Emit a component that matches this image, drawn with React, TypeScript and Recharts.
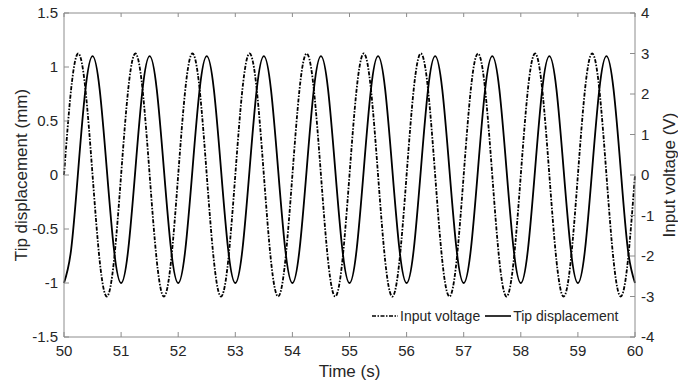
import { LineChart, Line, XAxis, YAxis, Legend } from 'recharts';

const time = [
  50, 50.125, 50.25, 50.375, 50.5, 50.625, 50.75, 50.875,
  51, 51.125, 51.25, 51.375, 51.5, 51.625, 51.75, 51.875,
  52, 52.125, 52.25, 52.375, 52.5, 52.625, 52.75, 52.875,
  53, 53.125, 53.25, 53.375, 53.5, 53.625, 53.75, 53.875,
  54, 54.125, 54.25, 54.375, 54.5, 54.625, 54.75, 54.875,
  55, 55.125, 55.25, 55.375, 55.5, 55.625, 55.75, 55.875,
  56, 56.125, 56.25, 56.375, 56.5, 56.625, 56.75, 56.875,
  57, 57.125, 57.25, 57.375, 57.5, 57.625, 57.75, 57.875,
  58, 58.125, 58.25, 58.375, 58.5, 58.625, 58.75, 58.875,
  59, 59.125, 59.25, 59.375, 59.5, 59.625, 59.75, 59.875,
  60,
];

// input voltage (V), right axis
const inputVoltage = [
  0, 2.12, 3, 2.12, 0, -2.12, -3, -2.12,
  0, 2.12, 3, 2.12, 0, -2.12, -3, -2.12,
  0, 2.12, 3, 2.12, 0, -2.12, -3, -2.12,
  0, 2.12, 3, 2.12, 0, -2.12, -3, -2.12,
  0, 2.12, 3, 2.12, 0, -2.12, -3, -2.12,
  0, 2.12, 3, 2.12, 0, -2.12, -3, -2.12,
  0, 2.12, 3, 2.12, 0, -2.12, -3, -2.12,
  0, 2.12, 3, 2.12, 0, -2.12, -3, -2.12,
  0, 2.12, 3, 2.12, 0, -2.12, -3, -2.12,
  0, 2.12, 3, 2.12, 0, -2.12, -3, -2.12,
  0,
];

// tip displacement (mm), left axis
const tipDisplacement = [
  -1, -0.69, 0.05, 0.79, 1.1, 0.79, 0.05, -0.69,
  -1, -0.69, 0.05, 0.79, 1.1, 0.79, 0.05, -0.69,
  -1, -0.69, 0.05, 0.79, 1.1, 0.79, 0.05, -0.69,
  -1, -0.69, 0.05, 0.79, 1.1, 0.79, 0.05, -0.69,
  -1, -0.69, 0.05, 0.79, 1.1, 0.79, 0.05, -0.69,
  -1, -0.69, 0.05, 0.79, 1.1, 0.79, 0.05, -0.69,
  -1, -0.69, 0.05, 0.79, 1.1, 0.79, 0.05, -0.69,
  -1, -0.69, 0.05, 0.79, 1.1, 0.79, 0.05, -0.69,
  -1, -0.69, 0.05, 0.79, 1.1, 0.79, 0.05, -0.69,
  -1, -0.69, 0.05, 0.79, 1.1, 0.79, 0.05, -0.69,
  -1,
];

const timeTicks = [50, 51, 52, 53, 54, 55, 56, 57, 58, 59, 60];
const dispTicks = [-1.5, -1, -0.5, 0, 0.5, 1, 1.5];
const voltTicks = [-4, -3, -2, -1, 0, 1, 2, 3, 4];

const data = time.map((t, i) => ({ t, v: inputVoltage[i], d: tipDisplacement[i] }));

const AXIS = '#8c8c8c';
const TEXT = '#262626';
const DASH_DOT = '4 1.5 1.5 1.5';

const tickStyle = { fill: TEXT, fontSize: 15 };

function LegendBox() {
  const item = { display: 'flex', alignItems: 'center' } as const;
  return (
    <div style={{ display: 'flex', alignItems: 'center', fontSize: 14, color: TEXT, whiteSpace: 'nowrap' }}>
      <div style={item}>
        <svg width={26} height={10}>
          <line x1={0} y1={5} x2={26} y2={5} stroke="#000" strokeWidth={1.6} strokeDasharray={DASH_DOT} />
        </svg>
        <span style={{ marginLeft: 2 }}>Input voltage</span>
      </div>
      <div style={{ ...item, marginLeft: 5 }}>
        <svg width={26} height={10}>
          <line x1={0} y1={5} x2={26} y2={5} stroke="#000" strokeWidth={1.6} />
        </svg>
        <span style={{ marginLeft: 2 }}>Tip displacement</span>
      </div>
    </div>
  );
}

export default function App() {
  return (
    <div style={{ position: 'absolute', left: 0, top: 0, fontFamily: '"Liberation Sans", Arial, sans-serif' }}>
      <LineChart width={678} height={385} data={data} margin={{ top: 0, right: 0, bottom: 0, left: 0 }}>
        <XAxis
          xAxisId="bottom"
          dataKey="t"
          type="number"
          domain={[50, 60]}
          ticks={timeTicks}
          interval={0}
          height={48}
          stroke={AXIS}
          tickSize={-5}
          tickMargin={13}
          tick={tickStyle}
          label={({ viewBox }: any) => (
            <text x={viewBox.x + viewBox.width / 2} y={377} textAnchor="middle" fontSize={17} fill={TEXT}>
              Time (s)
            </text>
          )}
        />
        <XAxis
          xAxisId="top"
          dataKey="t"
          type="number"
          orientation="top"
          domain={[50, 60]}
          ticks={timeTicks}
          interval={0}
          height={13}
          stroke={AXIS}
          tickSize={-4}
          tickFormatter={() => ''}
        />
        <YAxis
          yAxisId="left"
          type="number"
          domain={[-1.5, 1.5]}
          ticks={dispTicks}
          interval={0}
          width={64}
          stroke={AXIS}
          tickSize={-5}
          tickMargin={11}
          tick={tickStyle}
          label={({ viewBox }: any) => (
            <text
              x={21}
              y={viewBox.y + viewBox.height / 2}
              dy="0.35em"
              textAnchor="middle"
              fontSize={17}
              fill={TEXT}
              transform={`rotate(-90, 21, ${viewBox.y + viewBox.height / 2})`}
            >
              Tip displacement (mm)
            </text>
          )}
        />
        <YAxis
          yAxisId="right"
          orientation="right"
          type="number"
          domain={[-4, 4]}
          ticks={voltTicks}
          interval={0}
          width={43}
          stroke={AXIS}
          tickSize={-5}
          tickMargin={11}
          tick={tickStyle}
          label={({ viewBox }: any) => (
            <text
              x={669}
              y={viewBox.y + viewBox.height / 2}
              dy="0.35em"
              textAnchor="middle"
              fontSize={17}
              fill={TEXT}
              transform={`rotate(-90, 669, ${viewBox.y + viewBox.height / 2})`}
            >
              Input voltage (V)
            </text>
          )}
        />
        <Legend
          layout="vertical"
          align="center"
          verticalAlign="middle"
          content={() => <LegendBox />}
          wrapperStyle={{ left: 372, top: 308, width: 'auto' }}
        />
        <Line
          xAxisId="bottom"
          yAxisId="right"
          dataKey="v"
          type="natural"
          stroke="#000"
          strokeWidth={1.8}
          strokeDasharray={DASH_DOT}
          dot={false}
          activeDot={false}
          isAnimationActive={false}
        />
        <Line
          xAxisId="bottom"
          yAxisId="left"
          dataKey="d"
          type="natural"
          stroke="#000"
          strokeWidth={1.8}
          dot={false}
          activeDot={false}
          isAnimationActive={false}
        />
      </LineChart>
    </div>
  );
}
